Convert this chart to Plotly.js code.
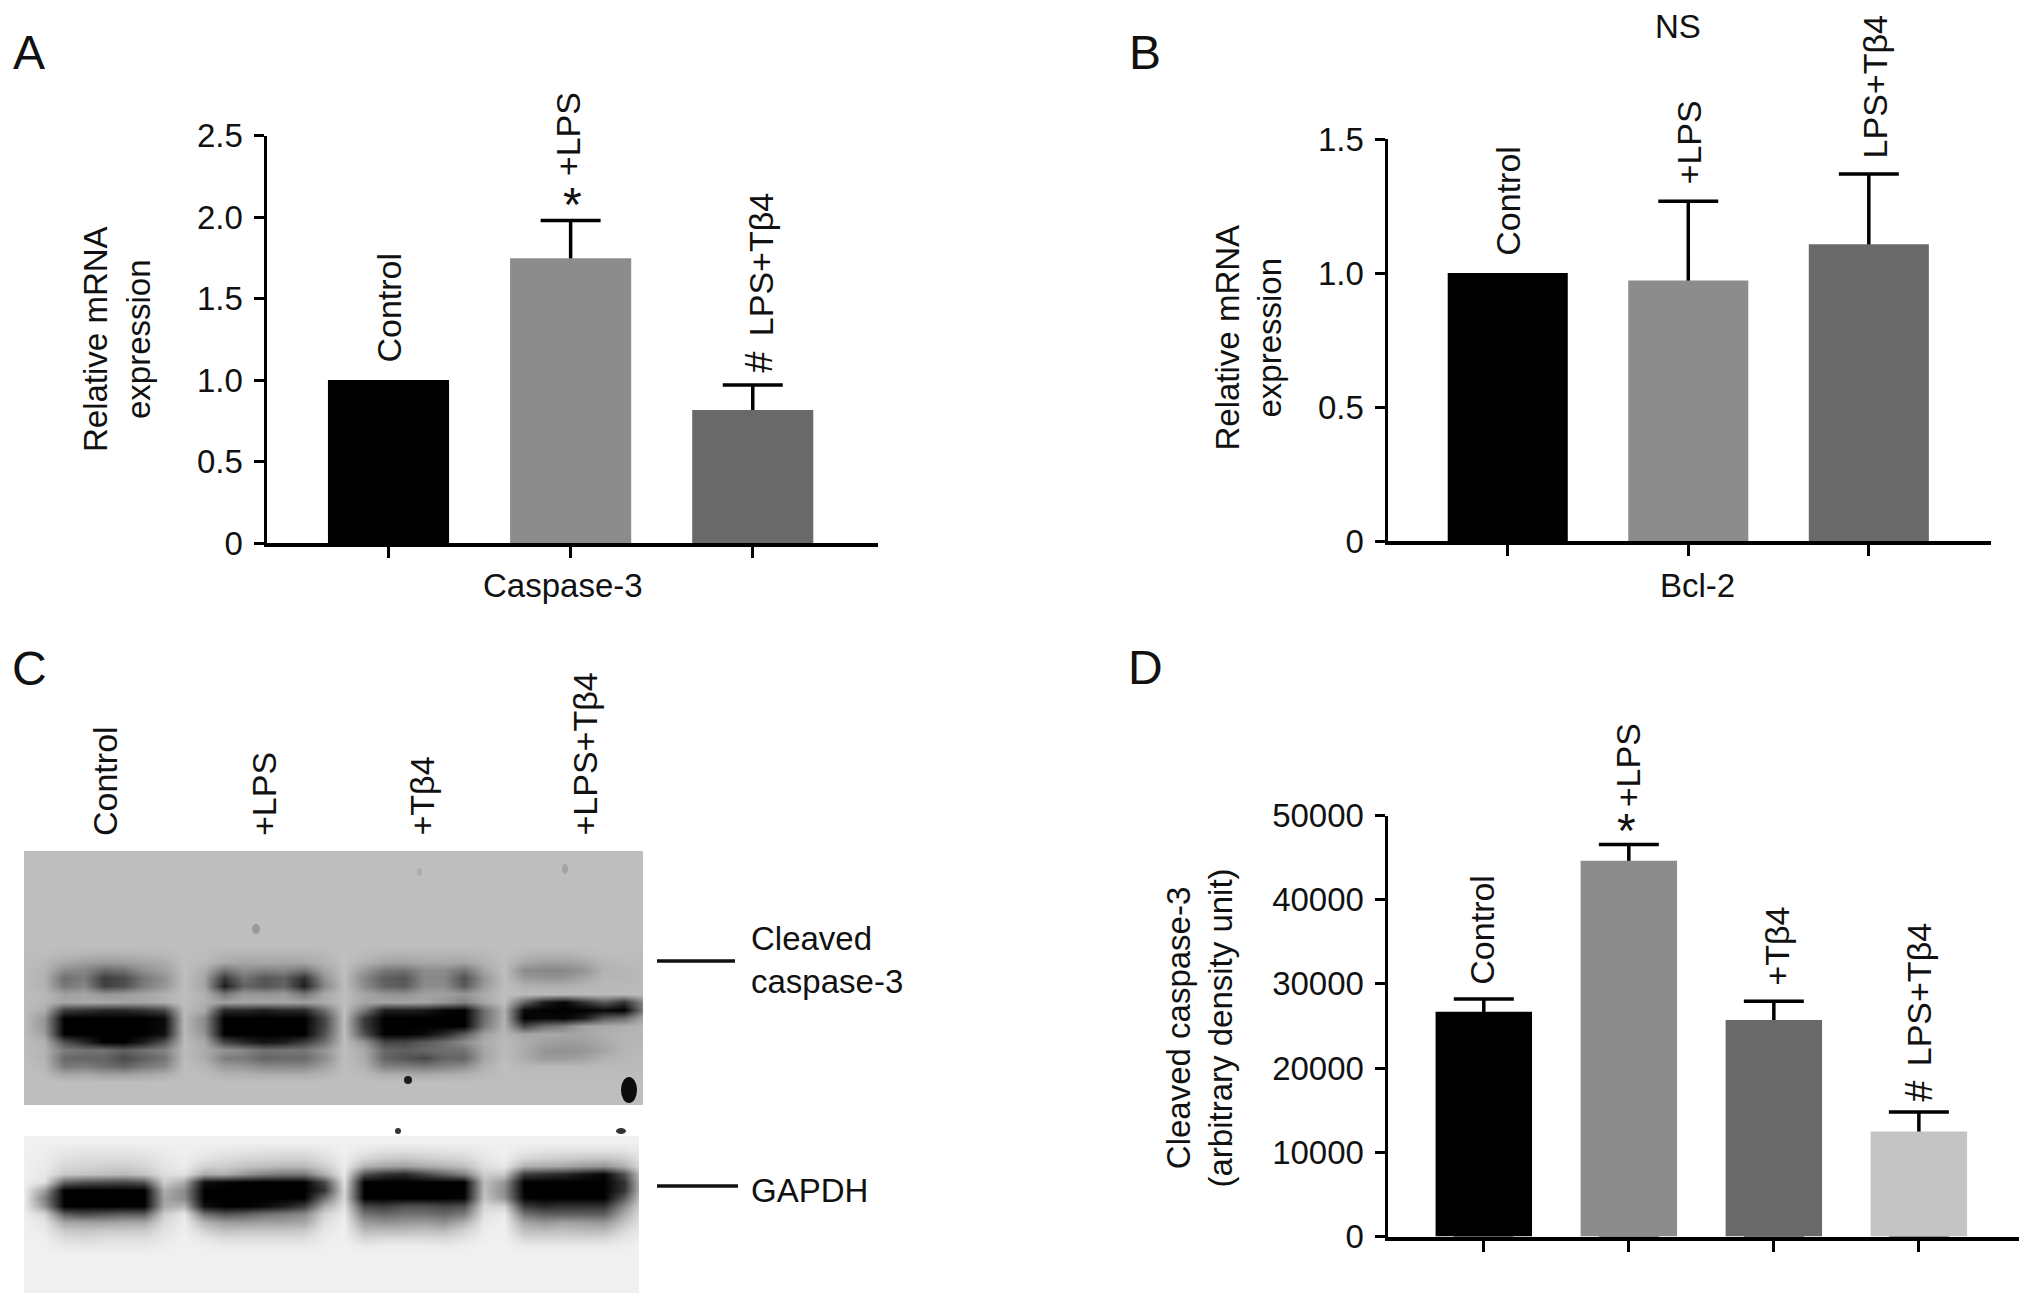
<!DOCTYPE html>
<html>
<head>
<meta charset="utf-8">
<script src="https://cdn.plot.ly/plotly-3.0.1.min.js"></script>
<style>
body { margin: 0; background: #fff; }
#chart { width: 2032px; height: 1307px; }
</style>
</head>
<body>
<div id="chart"></div>
<script>
const W = 2032, H = 1307;
const FONT = '"Liberation Sans", Arial, sans-serif';
const INK = '#111111';

// Panel A
const namesA = ['Control', '+LPS', 'LPS+Tβ4'];
const valuesA = [1.0, 1.747, 0.816];
const errA = [NaN, 0.231, 0.154];
const signsA = ['', '*', '#'];
// Panel B
const namesB = ['Control', '+LPS', 'LPS+Tβ4'];
const valuesB = [1.0, 0.972, 1.107];
const errB = [NaN, 0.296, 0.262];
// Panel D
const namesD = ['Control', '+LPS', '+Tβ4', 'LPS+Tβ4'];
const valuesD = [26700, 44640, 25700, 12470];
const errD = [1520, 1920, 2230, 2330];
const signsD = ['', '*', '', '#'];

const barColors = ['#000000', '#8c8c8c', '#696969', '#c4c4c4'];

// Panel C, blot grey levels
const cleavedRows = [
  [190,190,190,190,190,190,190,190,190,190,190,190,190,190,190,190,190,190,190,190,190,190,190,190,190,190,190,190,190,190,190,190],
  [188,188,184,180,178,178,182,184,190,188,180,180,180,180,180,184,192,186,180,178,180,180,180,184,190,182,178,178,184,188,188,188],
  [188,184,168,160,155,158,165,172,190,186,170,165,168,165,168,178,192,178,165,162,168,168,165,178,190,168,160,160,168,182,186,186],
  [188,180,140,135,105,115,145,160,190,175,115,140,130,135,115,165,190,155,120,115,140,140,115,165,190,140,135,135,150,178,182,186],
  [188,178,110,125,60,75,120,145,190,165,55,115,85,95,45,145,190,135,95,85,135,135,80,150,190,155,150,150,165,182,182,186],
  [188,178,120,135,65,80,125,150,190,165,30,100,85,100,30,135,190,140,100,90,140,140,90,155,190,178,175,175,180,185,185,186],
  [188,184,160,165,150,155,165,175,190,178,120,155,150,155,120,168,190,165,150,145,160,160,150,172,190,186,186,186,186,186,186,188],
  [188,182,165,170,170,165,165,175,190,175,160,165,165,165,160,170,190,165,165,165,165,150,130,165,190,100,30,5,50,90,50,140],
  [188,175,60,50,40,40,50,70,188,170,40,40,30,40,40,110,192,120,30,30,25,5,0,110,178,10,0,0,0,10,0,130],
  [188,150,0,0,0,0,0,10,185,140,0,0,0,0,0,70,190,60,0,0,0,0,0,110,178,0,10,5,30,90,110,170],
  [188,150,0,0,0,0,0,10,185,140,0,0,0,0,0,70,190,60,0,0,0,0,0,120,180,70,110,130,165,170,175,180],
  [188,160,0,0,0,0,0,15,185,150,0,0,0,0,0,80,190,80,0,0,10,40,90,160,182,165,170,165,165,175,180,182],
  [188,178,80,40,0,0,30,80,186,170,70,40,20,30,60,110,190,150,70,70,90,110,140,172,185,175,160,155,160,170,180,182],
  [188,180,125,115,115,95,115,130,188,172,150,135,115,120,120,150,190,170,105,95,105,110,115,165,188,170,150,145,150,165,182,184],
  [188,180,105,100,100,75,95,115,188,172,125,120,100,105,105,140,190,172,100,85,70,100,100,165,188,172,155,155,162,178,184,186],
  [190,184,120,125,110,100,120,135,190,182,155,150,135,135,135,160,190,178,130,125,120,130,140,176,190,184,184,184,184,186,186,186],
  [190,188,165,168,160,158,165,172,190,188,178,176,172,172,172,180,190,186,172,172,168,172,176,184,190,188,188,188,188,188,188,188],
  [190,190,190,190,190,190,190,190,190,190,190,190,190,190,190,190,190,190,190,190,190,190,190,190,190,190,190,190,190,190,190,190]
];
const gapdhRows = [
  [240,240,240,240,240,240,240,240,240,240,240,240,240,240,240,240,240,240,240,240,240,240,240,240,240,240,240,240,240,240,240,240],
  [240,238,232,230,230,230,232,236,240,236,232,230,228,226,226,232,240,232,226,224,226,228,230,236,240,232,228,226,226,226,228,236],
  [240,236,225,222,220,220,222,232,238,228,220,215,212,210,210,222,238,215,205,200,205,210,215,230,238,215,208,205,200,198,205,232],
  [240,234,215,212,208,205,212,228,236,210,205,195,190,185,185,205,236,180,165,160,170,180,190,222,232,175,170,165,155,150,175,228],
  [240,232,200,195,190,185,195,222,225,170,175,150,130,120,120,175,232,80,50,40,70,100,130,205,200,60,50,40,20,5,80,222],
  [238,225,100,80,75,70,85,205,170,15,5,0,0,0,0,70,225,0,0,0,0,0,0,190,150,0,0,0,0,0,50,218],
  [236,160,0,0,0,0,0,175,140,0,0,0,0,0,0,50,215,0,0,0,0,0,0,190,140,0,0,0,0,0,50,218],
  [236,130,0,0,0,0,0,165,140,0,0,0,0,0,0,110,215,0,0,0,0,0,5,195,150,5,0,0,0,0,90,222],
  [236,150,0,0,0,0,0,170,180,15,0,0,10,30,60,170,225,70,60,80,80,70,80,215,210,60,40,50,50,50,140,228],
  [238,215,95,75,85,95,95,205,232,115,85,95,115,125,140,210,235,115,105,115,115,105,125,225,235,115,95,95,95,95,170,232],
  [240,228,165,160,160,165,165,218,236,180,155,155,160,160,165,222,238,155,145,150,155,145,175,232,238,165,150,160,155,150,195,236],
  [240,234,200,195,200,200,200,225,238,210,190,195,195,195,200,230,240,185,185,185,190,185,208,236,240,190,185,190,185,185,215,238],
  [240,238,220,215,220,220,220,232,240,230,218,220,220,220,220,235,240,212,218,218,218,215,225,238,240,215,212,215,212,214,228,240],
  [240,240,232,230,232,232,232,236,240,238,234,234,234,234,234,238,240,234,236,236,236,234,238,240,240,234,234,234,234,234,238,240],
  [240,240,240,240,240,240,240,240,240,240,240,240,240,240,240,240,240,240,240,240,240,240,240,240,240,240,240,240,240,240,240,240]
];
const blotLanes = ['Control', '+LPS', '+Tβ4', '+LPS+Tβ4'];

const px = x => x / W;
const py = y => 1 - y / H;

// the whisker runs down to the axis on a see-through bar, the solid bar on top hides its lower part
function barTraces(names, values, err, xa, ya) {
    const colors = barColors.slice(0, names.length);
    return [
        {
            type: 'bar',
            x: names,
            y: values,
            width: 0.665,
            marker: { color: 'rgba(0,0,0,0)', line: { width: 0 } },
            error_y: {
                type: 'data',
                symmetric: false,
                array: err,
                arrayminus: err.map((e, i) => (isNaN(e) ? NaN : values[i])),
                color: '#000',
                thickness: 3.5,
                width: 30
            },
            xaxis: xa,
            yaxis: ya,
            hoverinfo: 'skip'
        },
        {
            type: 'bar',
            x: names,
            y: values,
            width: 0.665,
            marker: { color: colors, line: { width: 0 } },
            xaxis: xa,
            yaxis: ya,
            hoverinfo: 'x+y'
        }
    ];
}

function xAxis(n, left, right, range, anchor) {
    const ticks = [];
    for (let i = 0; i < n; i++) ticks.push(i);
    return {
        domain: [px(left), px(right)],
        range: range,
        type: 'category',
        anchor: anchor,
        showgrid: false,
        zeroline: false,
        showline: true,
        linecolor: '#000',
        linewidth: 4,
        ticks: 'outside',
        ticklen: 11,
        tickwidth: 3,
        tickcolor: '#000',
        tickmode: 'array',
        tickvals: ticks,
        showticklabels: false
    };
}

function yAxis(top, bottom, range, tickvals, ticktext, anchor) {
    return {
        domain: [py(bottom), py(top)],
        range: range,
        anchor: anchor,
        showgrid: false,
        zeroline: false,
        showline: true,
        linecolor: '#000',
        linewidth: 3,
        ticks: 'outside',
        ticklen: 10,
        tickwidth: 3,
        tickcolor: '#000',
        tickmode: 'array',
        tickvals: tickvals,
        ticktext: ticktext,
        ticklabelstandoff: 4,
        tickfont: { family: FONT, size: 33, color: INK }
    };
}

const textFont = { family: FONT, size: 33, color: INK };
const barLabelFont = { family: FONT, size: 34, color: INK };

function barLabels(names, tops, xa, ya, xshifts, yshifts) {
    return names.map((name, i) => ({
        text: name,
        xref: xa,
        yref: ya,
        x: i,
        y: tops[i],
        textangle: -90,
        xanchor: 'center',
        yanchor: 'bottom',
        xshift: xshifts[i],
        yshift: yshifts[i],
        showarrow: false,
        font: barLabelFont
    }));
}

// significance marks sit on their own, just over the whisker
function signLabels(signs, tops, xa, ya, xshifts, yshifts) {
    const out = [];
    signs.forEach((sign, i) => {
        if (!sign) return;
        out.push({
            text: sign,
            xref: xa,
            yref: ya,
            x: i,
            y: tops[i],
            textangle: sign === '#' ? -90 : 0,
            xanchor: 'center',
            yanchor: 'middle',
            xshift: xshifts[i],
            yshift: yshifts[i],
            showarrow: false,
            font: { family: FONT, size: sign === '#' ? 38 : 48, color: INK }
        });
    });
    return out;
}

function freeText(text, x, y, xanchor, size) {
    return {
        text: text,
        xref: 'paper',
        yref: 'paper',
        x: px(x),
        y: py(y),
        xanchor: xanchor,
        yanchor: 'middle',
        showarrow: false,
        align: 'left',
        font: { family: FONT, size: size || 33, color: INK }
    };
}

function yTitle(text, x, y) {
    return {
        text: text,
        xref: 'paper',
        yref: 'paper',
        x: px(x),
        y: py(y),
        textangle: -90,
        xanchor: 'center',
        yanchor: 'middle',
        align: 'center',
        showarrow: false,
        font: textFont
    };
}

function topOf(values, err) {
    return values.map((v, i) => (isNaN(err[i]) ? v : v + err[i]));
}

const blotGrey = [[0, '#000000'], [1, '#ffffff']];

const data = [
    ...barTraces(namesA, valuesA, errA, 'x', 'y'),
    ...barTraces(namesB, valuesB, errB, 'x2', 'y2'),
    ...barTraces(namesD, valuesD, errD, 'x3', 'y3'),
    {
        type: 'heatmap',
        z: cleavedRows,
        x0: 24, dx: 20,
        y0: 946, dy: 8,
        zmin: 0, zmax: 255,
        colorscale: blotGrey,
        showscale: false,
        zsmooth: 'best',
        hoverinfo: 'skip',
        xaxis: 'x4', yaxis: 'y4'
    },
    {
        type: 'heatmap',
        z: gapdhRows,
        x0: 24, dx: 20,
        y0: 1142, dy: 8,
        zmin: 0, zmax: 255,
        colorscale: blotGrey,
        showscale: false,
        zsmooth: 'best',
        hoverinfo: 'skip',
        xaxis: 'x4', yaxis: 'y4'
    }
];

const annotations = [
    ...barLabels(namesA, topOf(valuesA, errA), 'x', 'y', [0, -3, 9], [15, 42, 47]),
    ...signLabels(signsA, topOf(valuesA, errA), 'x', 'y', [0, 2, 6], [0, 16, 23]),
    ...barLabels(namesB, topOf(valuesB, errB), 'x2', 'y2', [0, 1, 6], [15, 15, 14]),
    ...barLabels(namesD, topOf(valuesD, errD), 'x3', 'y3', [-2, 0, 3, 1], [12, 35, 14, 44]),
    ...signLabels(signsD, topOf(valuesD, errD), 'x3', 'y3', [0, -2, 0, 0], [0, 14, 0, 21]),
    yTitle('Relative mRNA<br>expression', 117, 339),
    yTitle('Relative mRNA<br>expression', 1248.5, 338),
    yTitle('Cleaved caspase-3<br>(arbitrary density unit)', 1199.5, 1028),
    {
        text: 'Caspase-3', xref: 'x', yref: 'paper', x: 0.956, y: py(585),
        xanchor: 'center', yanchor: 'middle', showarrow: false, font: textFont
    },
    {
        text: 'Bcl-2', xref: 'x2', yref: 'paper', x: 1.05, y: py(585),
        xanchor: 'center', yanchor: 'middle', showarrow: false, font: textFont
    },
    freeText('NS', 1678, 27, 'center'),
    freeText('A', 29, 53, 'center', 48),
    freeText('B', 1145, 53, 'center', 48),
    freeText('C', 29, 668, 'center', 48),
    freeText('D', 1145, 667, 'center', 48),
    freeText('Cleaved<br>caspase-3', 749, 960, 'left'),
    freeText('GAPDH', 749, 1190, 'left')
];

[105, 264, 421, 584].forEach((x, i) => {
    annotations.push({
        text: blotLanes[i],
        xref: 'paper', yref: 'paper',
        x: px(x), y: py(838),
        textangle: -90,
        xanchor: 'center', yanchor: 'bottom',
        showarrow: false,
        font: barLabelFont
    });
});

const hiddenAxis = { showgrid: false, zeroline: false, showline: false, showticklabels: false, ticks: '' };

const layout = {
    width: W,
    height: H,
    margin: { l: 0, r: 0, t: 0, b: 0 },
    paper_bgcolor: '#fff',
    plot_bgcolor: 'rgba(0,0,0,0)',
    showlegend: false,
    barmode: 'overlay',
    xaxis: xAxis(3, 266.5, 877.5, [-0.67, 2.685], 'y'),
    yaxis: yAxis(135.5, 543, [0, 2.5], [0, 0.5, 1, 1.5, 2, 2.5], ['0', '0.5', '1.0', '1.5', '2.0', '2.5'], 'x'),
    xaxis2: xAxis(3, 1387.5, 1990.5, [-0.666, 2.674], 'y2'),
    yaxis2: yAxis(139, 541, [0, 1.5], [0, 0.5, 1, 1.5], ['0', '0.5', '1.0', '1.5'], 'x2'),
    xaxis3: xAxis(4, 1387.5, 2018.5, [-0.664, 3.687], 'y3'),
    yaxis3: yAxis(815.5, 1236.5, [0, 50000], [0, 10000, 20000, 30000, 40000, 50000], ['0', '10000', '20000', '30000', '40000', '50000'], 'x3'),
    xaxis4: { ...hiddenAxis, domain: [px(24), px(644)], range: [24, 644], anchor: 'y4' },
    yaxis4: { ...hiddenAxis, domain: [py(1294), py(850)], range: [1294, 850], anchor: 'x4' },
    annotations: annotations,
    shapes: [
        { type: 'rect', xref: 'x4', yref: 'y4', x0: 24, x1: 643, y0: 851, y1: 1105, fillcolor: '#bebebe', line: { width: 0 }, layer: 'below' },
        { type: 'rect', xref: 'x4', yref: 'y4', x0: 24, x1: 639, y0: 1136, y1: 1293, fillcolor: '#f0f0f0', line: { width: 0 }, layer: 'below' },
        { type: 'rect', xref: 'x4', yref: 'y4', x0: 639, x1: 644, y0: 1136, y1: 1294, fillcolor: '#fff', line: { width: 0 } },
        { type: 'rect', xref: 'x4', yref: 'y4', x0: 643, x1: 644, y0: 850, y1: 1106, fillcolor: '#fff', line: { width: 0 } },
        { type: 'circle', xref: 'x4', yref: 'y4', x0: 621, x1: 637, y0: 1077, y1: 1103, fillcolor: '#0c0c0c', line: { width: 0 } },
        { type: 'circle', xref: 'x4', yref: 'y4', x0: 404, x1: 412, y0: 1076, y1: 1084, fillcolor: '#1c1c1c', line: { width: 0 } },
        { type: 'circle', xref: 'x4', yref: 'y4', x0: 252, x1: 260, y0: 924, y1: 934, fillcolor: '#9a9a9a', line: { width: 0 } },
        { type: 'circle', xref: 'x4', yref: 'y4', x0: 562, x1: 568, y0: 864, y1: 874, fillcolor: '#a4a4a4', line: { width: 0 } },
        { type: 'circle', xref: 'x4', yref: 'y4', x0: 417, x1: 422, y0: 868, y1: 876, fillcolor: '#acacac', line: { width: 0 } },
        { type: 'circle', xref: 'paper', yref: 'paper', x0: px(395), x1: px(401), y0: py(1134), y1: py(1128), fillcolor: '#333', line: { width: 0 } },
        { type: 'circle', xref: 'paper', yref: 'paper', x0: px(616), x1: px(626), y0: py(1134), y1: py(1128), fillcolor: '#333', line: { width: 0 } },
        { type: 'line', xref: 'paper', yref: 'paper', x0: px(657), x1: px(735), y0: py(961), y1: py(961), line: { color: '#111', width: 3.5 } },
        { type: 'line', xref: 'paper', yref: 'paper', x0: px(657), x1: px(738), y0: py(1186), y1: py(1186), line: { color: '#111', width: 3.5 } }
    ]
};

Plotly.newPlot('chart', data, layout, { displayModeBar: false });
</script>
</body>
</html>
